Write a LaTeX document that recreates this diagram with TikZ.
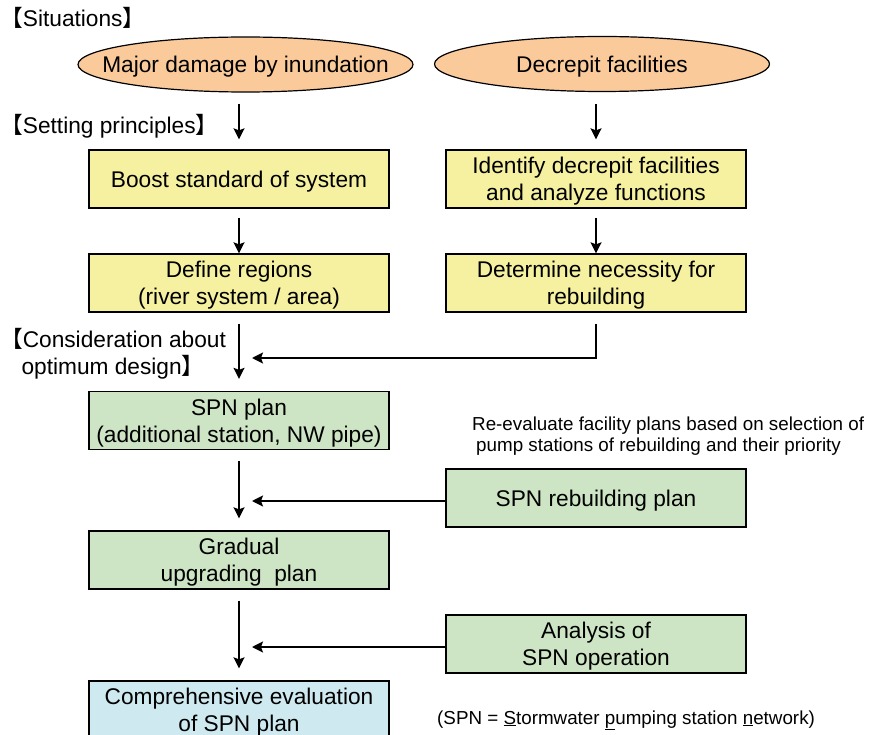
\documentclass[tikz,border=0pt]{standalone}
\usepackage{fontspec}
\setmainfont{Liberation Sans}
\newfontfamily\cjk{Noto Sans CJK JP}
\usetikzlibrary{shapes.geometric,arrows.meta}
\definecolor{peach}{RGB}{250,202,155}
\definecolor{yel}{RGB}{245,241,160}
\definecolor{grn}{RGB}{205,229,196}
\definecolor{sky}{RGB}{206,234,240}
\newcommand{\lbr}{{\cjk【}}
\newcommand{\rbr}{{\cjk】}}

\begin{document}
\begin{tikzpicture}[x=1pt,y=-1pt,
	big/.style={font=\fontsize{22.7}{26.7}\selectfont},
	small/.style={font=\fontsize{18.8}{21}\selectfont},
	situ/.style={ellipse,draw,line width=1.2pt,fill=peach,minimum width=335pt,minimum height=55pt,inner sep=0pt,text depth=0pt,big},
	boxy/.style={rectangle,draw,line width=1.3pt,minimum width=300pt,minimum height=58pt,inner sep=0pt,align=center,text depth=-2pt,big},
	arr/.style={-{Stealth[length=11pt,width=11pt,inset=2pt]},line width=1.7pt}]
\clip (0,0) rectangle (870,735);
\node [big,anchor=base west,inner sep=0pt] (situations) at (0,27) {\lbr Situations\rbr};
\node [big,anchor=base west,inner sep=0pt] (principles) at (0,134) {\lbr Setting principles\rbr};
\node [big,align=center,inner sep=0pt] (optimum) at (113,354) {\lbr Consideration about\\optimum design\rbr};
\node [situ] (dmg) at (245.5,64.5) {\makebox[0pt]{Major damage by inundation}};
\node [situ] (old) at (602,64) {\makebox[0pt]{Decrepit facilities}};
\node [boxy,fill=yel] (boost) at (239,179) {Boost standard of system};
\node [boxy,fill=yel] (ident) at (596,179) {Identify decrepit facilities\\and analyze functions};
\node [boxy,fill=yel] (regions) at (239,283) {Define regions\\(river system / area)};
\node [boxy,fill=yel] (need) at (596,283) {Determine necessity for\\rebuilding};
\node [boxy,fill=grn] (spn) at (239,420.5) {SPN plan\\(additional station, NW pipe)};
\node [boxy,fill=grn] (rebuild) at (596,498) {SPN rebuilding plan};
\node [boxy,fill=grn] (grad) at (239,560) {Gradual\\upgrading\ \ plan};
\node [boxy,fill=grn] (anal) at (596,644) {Analysis of\\SPN operation};
\node [boxy,fill=sky] (eval) at (239,710) {Comprehensive evaluation\\of SPN plan};
\node [small,align=left,inner sep=0pt,anchor=north west] (reeval) at (472,417) {Re-evaluate facility plans based on selection of\\\hspace{4pt}pump stations of rebuilding and their priority};
\node [small,anchor=base west,inner sep=0pt] (legend) at (437,724) {(SPN = \underline{S}tormwater \underline{p}umping station \underline{n}etwork)};
\coordinate (mid1) at (252,358);
\coordinate (mid2) at (252,501);
\coordinate (mid3) at (252,647);
\draw [arr,shorten <=11pt,shorten >=10pt] (boost.north |- dmg.south) -- (boost.north);
\draw [arr,shorten <=12pt,shorten >=10pt] (ident.north |- old.south) -- (ident.north);
\draw [arr,shorten <=9pt] (boost) -- (regions);
\draw [arr,shorten <=9pt] (ident) -- (need);
\draw [arr,shorten <=11pt,shorten >=12pt] (regions) -- (spn);
\draw [arr,shorten <=11pt] (need.south) |- (mid1);
\draw [arr,shorten <=11pt,shorten >=12pt] (spn) -- (grad);
\draw [arr] (rebuild.west |- mid2) -- (mid2);
\draw [arr,shorten <=11pt,shorten >=12pt] (grad) -- (eval);
\draw [arr] (anal.west |- mid3) -- (mid3);
\end{tikzpicture}
\end{document}
